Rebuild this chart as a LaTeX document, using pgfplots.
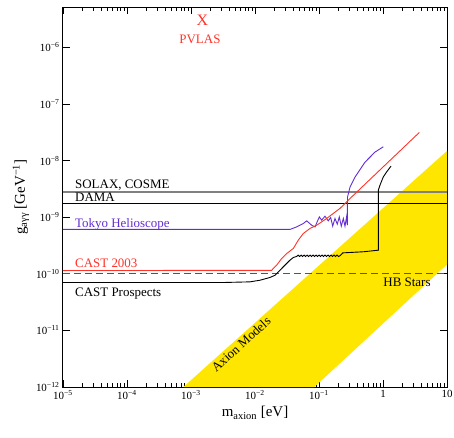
\documentclass[border=0pt]{standalone}
\usepackage{pgfplots}
\pgfplotsset{compat=1.18}
\usepackage{fontspec}
\setmainfont{Liberation Serif}
\definecolor{castred}{RGB}{255,50,40}
\definecolor{tokyo}{RGB}{100,45,210}
\definecolor{axyellow}{RGB}{255,230,0}
\definecolor{solaxgray}{RGB}{128,128,128}
\definecolor{hbgray}{RGB}{85,85,85}
\newcommand{\lab}{\fontsize{13}{15}\selectfont}
\begin{document}
\begin{tikzpicture}
\useasboundingbox (-63bp,-51bp) rectangle (391bp,387bp);
\begin{axis}[
  scale only axis, width=384bp, height=380bp,
  at={(0,0)}, anchor=south west,
  xmode=log, ymode=log,
  xmin=1e-5, xmax=10, ymin=1e-12, ymax=5.15e-6,
  xtick={1e-5,1e-4,1e-3,1e-2,1e-1,1,10},
  xticklabels={10\textsuperscript{−5},10\textsuperscript{−4},10\textsuperscript{−3},10\textsuperscript{−2},10\textsuperscript{−1},1,10},
  minor xtick={2e-5,3e-5,4e-5,5e-5,6e-5,7e-5,8e-5,9e-5,2e-4,3e-4,4e-4,5e-4,6e-4,7e-4,8e-4,9e-4,2e-3,3e-3,4e-3,5e-3,6e-3,7e-3,8e-3,9e-3,2e-2,3e-2,4e-2,5e-2,6e-2,7e-2,8e-2,9e-2,0.2,0.3,0.4,0.5,0.6,0.7,0.8,0.9,2,3,4,5,6,7,8,9},
  ytick={1e-12,1e-11,1e-10,1e-9,1e-8,1e-7,1e-6},
  yticklabels={10\textsuperscript{−12},10\textsuperscript{−11},10\textsuperscript{−10},10\textsuperscript{−9},10\textsuperscript{−8},10\textsuperscript{−7},10\textsuperscript{−6}},
  yminorticks=false,
  major tick length=7bp, minor tick length=4bp,
  tick style={black, line width=0.8bp},
  axis line style={line width=1bp},
  tick align=inside,
  ticklabel style={font=\fontsize{11}{12}\selectfont},
  xlabel={m\textsubscript{axion} [eV]},
  ylabel={g\textsubscript{aγγ} [GeV\textsuperscript{−1}]},
  label style={font=\fontsize{15}{17}\selectfont},
]
% axion models band
\addplot[fill=axyellow, draw=none] coordinates {(7.59e-4,1e-12) (10,1.48e-8) (10,1.46e-10) (0.0845,1e-12)} -- cycle;
% horizontal limits
\addplot[solaxgray, line width=1.6bp] coordinates {(1e-5,2.8e-9) (10,2.8e-9)};
\addplot[black, line width=0.8bp] coordinates {(1e-5,1.72e-9) (10,1.72e-9)};
\addplot[hbgray, line width=1.4bp, dash pattern=on 7bp off 4bp] coordinates {(1e-5,1e-10) (10,1e-10)};
% Tokyo helioscope
\addplot[tokyo, line width=0.9bp] coordinates {
(1e-5,6.07e-10) (0.0352,6.07e-10) (0.0449,6.74e-10) (0.0569,7.74e-10) (0.0643,8.6e-10)
(0.0769,7.2e-10) (0.0866,6.74e-10) (0.1012,1.01e-9) (0.1102,8.85e-10) (0.124,1.04e-9)
(0.1397,8.6e-10) (0.1523,9.88e-10) (0.1637,6.93e-10) (0.1778,9.48e-10) (0.193,7.52e-10)
(0.2075,1.01e-9) (0.2230,6.93e-10) (0.2398,9.48e-10) (0.2547,6.93e-10) (0.2709,1.04e-9)
(0.2768,7.2e-10) (0.2786,2.25e-9) (0.305,3.39e-9) (0.365,5.09e-9) (0.524,9.38e-9)
(0.75,1.41e-8) (1.011,1.75e-8)};
% CAST 2003
\addplot[castred, line width=0.9bp] coordinates {
(1e-5,1.14e-10) (0.0182,1.15e-10) (0.0193,1.24e-10) (0.0218,1.42e-10) (0.0261,1.86e-10)
(0.0313,2.28e-10) (0.0397,2.8e-10) (0.0475,3.93e-10) (0.0569,5.15e-10) (0.0723,6.31e-10)
(0.092,7.2e-10) (0.132,9.5e-10) (0.213,1.43e-9) (0.287,2.0e-9) (3.69,3.13e-8)};
% CAST prospects
\addplot[black, line width=0.9bp] coordinates {
(1e-5,7.0e-11) (3e-3,7.0e-11) (8.35e-3,7.2e-11) (0.012,7.7e-11) (0.0171,8.6e-11)
(0.0205,9.4e-11) (0.0246,1.16e-10) (0.0294,1.42e-10) (0.0352,1.74e-10) (0.0397,1.94e-10)
(0.0447,2.02e-10) (0.0472,2.14e-10) (0.0498,2.02e-10) (0.0525,2.14e-10) (0.0554,2.02e-10)
(0.0585,2.14e-10) (0.0617,2.02e-10) (0.0652,2.14e-10) (0.0688,2.02e-10) (0.0726,2.14e-10)
(0.0766,2.02e-10) (0.0808,2.14e-10) (0.0853,2.02e-10) (0.0901,2.14e-10) (0.0950,2.02e-10)
(0.1003,2.14e-10) (0.1058,2.02e-10) (0.1117,2.14e-10) (0.1179,2.02e-10) (0.1244,2.14e-10)
(0.1313,2.02e-10) (0.1386,2.14e-10) (0.1463,2.02e-10) (0.1544,2.14e-10) (0.1629,2.02e-10)
(0.1719,2.14e-10) (0.1815,2.02e-10) (0.1915,2.14e-10) (0.2021,2.02e-10) (0.215,2.1e-10)
(0.235,2.34e-10) (0.5,2.45e-10) (0.845,2.61e-10) (0.845,3.0e-9) (0.897,3.67e-9)
(1.011,5.15e-9) (1.142,6.3e-9) (1.334,7.96e-9)};
% PVLAS point
\addplot[only marks, castred, mark=text, text mark={\color{castred}\fontsize{16}{16}\selectfont X}] coordinates {(1.51e-3,3.03e-6)};
% labels
\node[anchor=base west, inner sep=0, font=\lab] at (axis cs:1.54e-5,3.21e-9) {SOLAX, COSME};
\node[anchor=base west, inner sep=0, font=\lab] at (axis cs:1.54e-5,1.86e-9) {DAMA};
\node[anchor=base west, inner sep=0, font=\lab, text=tokyo] at (axis cs:1.54e-5,6.58e-10) {Tokyo Helioscope};
\node[anchor=base west, inner sep=0, font=\lab, text=castred] at (axis cs:1.54e-5,1.27e-10) {CAST 2003};
\node[anchor=base west, inner sep=0, font=\lab] at (axis cs:1.54e-5,3.91e-11) {CAST Prospects};
\node[anchor=base west, inner sep=0, font=\lab] at (axis cs:1.01,5.87e-11) {HB Stars};
\node[anchor=base, inner sep=0, font=\lab, text=castred] at (axis cs:1.38e-3,1.17e-6) {PVLAS};
\node[rotate=42, inner sep=0, font=\lab] at (axis cs:6.04e-3,5.7e-12) {Axion Models};
\end{axis}
\end{tikzpicture}
\end{document}
